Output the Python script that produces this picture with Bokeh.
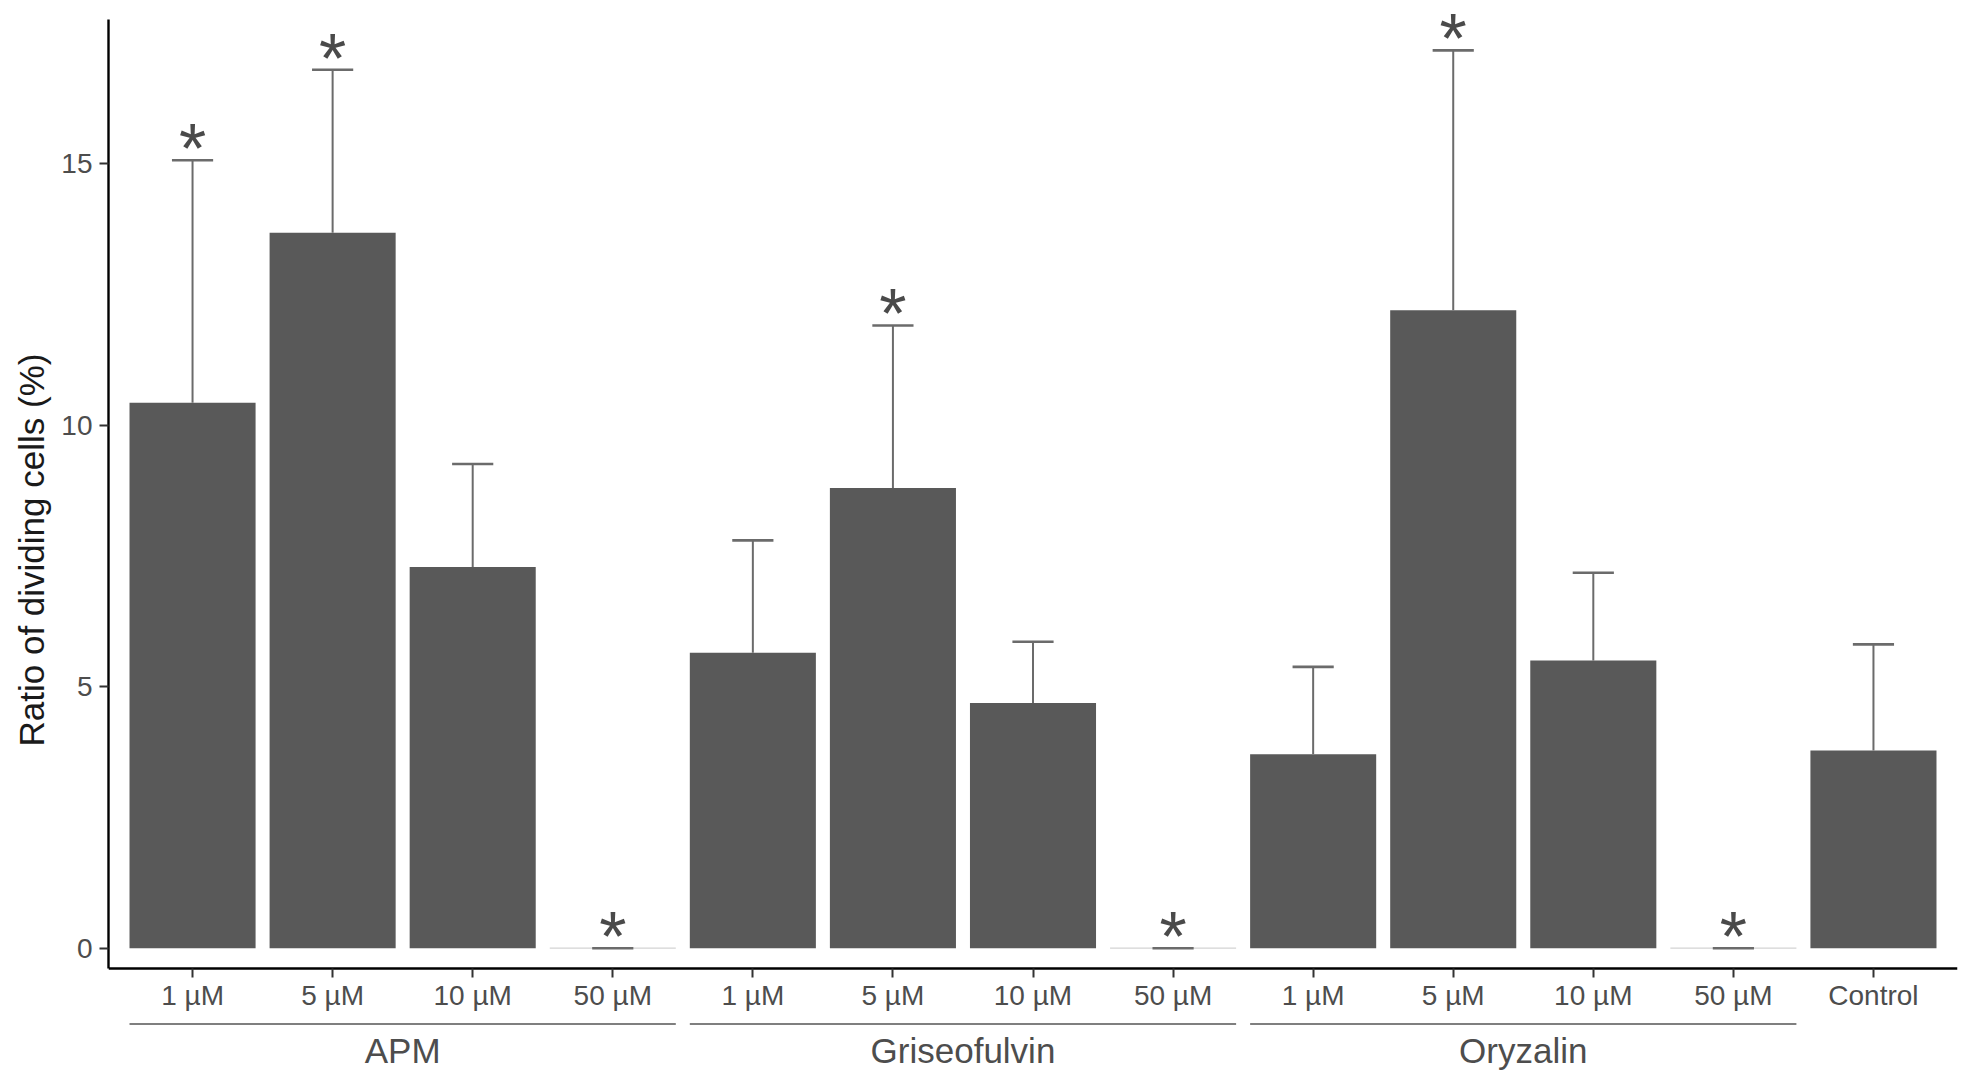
import numpy as np
from bokeh.plotting import figure
from bokeh.models import ColumnDataSource, FixedTicker, Range1d, Title
from bokeh.core.properties import value
from bokeh.embed import file_html
from bokeh.resources import INLINE

# ---------------- data ----------------
categories = ["1 µM", "5 µM", "10 µM", "50 µM",
              "1 µM", "5 µM", "10 µM", "50 µM",
              "1 µM", "5 µM", "10 µM", "50 µM",
              "Control"]
groups = ["APM"] * 4 + ["Griseofulvin"] * 4 + ["Oryzalin"] * 4 + [""]
means = [10.43, 13.68, 7.29, 0.0,
         5.65, 8.80, 4.69, 0.0,
         3.71, 12.20, 5.50, 0.0,
         3.78]
upper = [15.07, 16.80, 9.26, 0.0,
         7.80, 11.91, 5.86, 0.0,
         5.38, 17.17, 7.18, 0.0,
         5.81]
significant = [True, True, False, True,
               False, True, False, True,
               False, True, False, True,
               False]
group_names = ["APM", "Griseofulvin", "Oryzalin"]
y_ticks = [0, 5, 10, 15]
y_title = "Ratio of dividing cells (%)"

# ---------------- layout (pixels) ----------------
FONT = "Liberation Sans"
W, H = 1958, 1078
LEFT, RIGHT = 108, 1
AXIS_TOP_PX = 19     # page y of top end of y-axis line
Y0_PX = 947.7        # page y of value 0
AXIS_PX = 967.7      # page y of x-axis line
PPU = 52.29          # pixels per unit
TITLE_BOTTOM_PX = 746
ymax = Y0_PX / PPU
ymin = -(H - Y0_PX) / PPU
axis_top = (Y0_PX - AXIS_TOP_PX) / PPU
axis_y = -(AXIS_PX - Y0_PX) / PPU
line_y = -(1023.5 - Y0_PX) / PPU
label_y = -(1050 - Y0_PX) / PPU

n = len(categories)
xs = list(range(1, n + 1))
bar_w = 0.9
cap_half = 0.147

p = figure(width=W, height=H,
           x_range=Range1d(0.4, n + 0.6), y_range=Range1d(ymin, ymax),
           output_backend="svg", toolbar_location=None,
           min_border_left=LEFT, min_border_right=RIGHT,
           min_border_top=0, min_border_bottom=0)
p.grid.visible = False
p.outline_line_color = None
p.background_fill_color = "white"
p.border_fill_color = "white"

outline = ["#d4d4d4" if m == 0 else "rgba(0,0,0,0)" for m in means]
src = ColumnDataSource(dict(x=xs, top=means, upper=upper, outline=outline))
p.vbar(x="x", top="top", bottom=0, width=bar_w, source=src,
       fill_color="#595959", line_color="outline", line_width=1.2)

# error bars (upper only)
p.segment(x0="x", y0="top", x1="x", y1="upper", source=src,
          line_color="#6b6b6b", line_width=2)
cap_src = ColumnDataSource(dict(x0=[x - cap_half for x in xs],
                                x1=[x + cap_half for x in xs],
                                y=upper))
p.segment(x0="x0", y0="y", x1="x1", y1="y", source=cap_src,
          line_color="#6b6b6b", line_width=2.6)

# significance stars
sx = [x for x, s in zip(xs, significant) if s]
sy = [u for u, s in zip(upper, significant) if s]
star_src = ColumnDataSource(dict(x=sx, y=sy, t=["*"] * len(sx)))
p.text(x="x", y="y", text="t", source=star_src,
       text_font=value(FONT), text_font_size="70px", text_color="#4a4a4a",
       text_align="center", text_baseline="alphabetic", y_offset=-11)

# axes
ax = p.xaxis[0]
ax.fixed_location = axis_y
ax.ticker = FixedTicker(ticks=xs)
ax.major_label_overrides = {x: c for x, c in zip(xs, categories)}
ax.minor_tick_line_color = None
ay = p.yaxis[0]
ay.ticker = FixedTicker(ticks=y_ticks)
ay.minor_tick_line_color = None
ay.bounds = (axis_y, axis_top)
for a in (ax, ay):
    a.axis_line_color = "black"
    a.axis_line_width = 2.4
    a.major_tick_line_color = "#333333"
    a.major_tick_line_width = 2
    a.major_tick_out = 9
    a.major_tick_in = 0
    a.major_label_text_font = FONT
    a.major_label_text_font_size = "28px"
    a.major_label_text_color = "#4d4d4d"
ax.major_label_standoff = 3
ay.major_label_standoff = 7

# y-axis title in the left panel, positioned along the frame
p.add_layout(Title(text=y_title, align="left", offset=H - TITLE_BOTTOM_PX,
                   standoff=15, text_font=FONT, text_font_size="35px",
                   text_font_style="normal", text_color="#1a1a1a"), "left")

# group lines and group names below the axis
gx0, gx1, gxc = [], [], []
for g in group_names:
    idx = [x for x, gg in zip(xs, groups) if gg == g]
    a0, a1 = min(idx) - bar_w / 2, max(idx) + bar_w / 2
    gx0.append(a0); gx1.append(a1); gxc.append((a0 + a1) / 2)
gsrc = ColumnDataSource(dict(x0=gx0, x1=gx1, xc=gxc, name=group_names,
                             ly=[line_y] * 3, ty=[label_y] * 3))
p.segment(x0="x0", y0="ly", x1="x1", y1="ly", source=gsrc,
          line_color="#555555", line_width=1.6)
p.text(x="xc", y="ty", text="name", source=gsrc,
       text_font=value(FONT), text_font_size="35px", text_color="#4d4d4d",
       text_align="center", text_baseline="middle")

open("out.html", "w").write(file_html(p, INLINE))
